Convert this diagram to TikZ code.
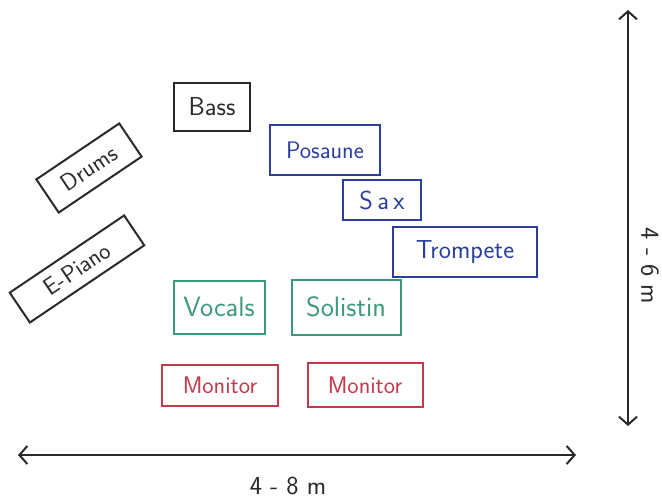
\documentclass[tikz,border=0pt]{standalone}
\usetikzlibrary{arrows.meta}
\definecolor{inkblack}{HTML}{2A2A2A}
\definecolor{inkblue}{HTML}{2B3F9C}
\definecolor{inkgreen}{HTML}{3C9A7A}
\definecolor{inkred}{HTML}{C23A4C}
\newcommand{\fsz}[1]{\fontsize{#1}{#1}\selectfont}
\begin{document}
\begin{tikzpicture}[x=1pt,y=-1pt,
  box/.style={draw, line width=2pt, inner sep=0pt, font=\sffamily\fsz{24}},
  blk/.style={box, draw=inkblack, text=inkblack},
  blu/.style={box, draw=inkblue, text=inkblue},
  grn/.style={box, draw=inkgreen, text=inkgreen, font=\sffamily\fsz{28}},
  rd/.style={box, draw=inkred, text=inkred, font=\sffamily\fsz{24}},
  dim/.style={line width=2pt, draw=inkblack, {Straight Barb[length=8pt,width=18pt]}-{Straight Barb[length=8pt,width=18pt]}},
  dimlabel/.style={text=inkblack, font=\sffamily\fsz{26}}
]
\useasboundingbox (0,0) rectangle (662,500);
\fill[white] (0,0) rectangle (662,500);

\node[blk, minimum width=76pt, minimum height=48pt, font=\sffamily\fsz{26}] (bass) at (212,107) {Bass};
\node[blk, minimum width=100pt, minimum height=40pt, rotate=34] (drums) at (89,168) {Drums};
\node[blk, minimum width=138pt, minimum height=36pt, rotate=34] (epiano) at (77,269) {E-Piano};

\node[blu, minimum width=110pt, minimum height=50pt] (posaune) at (325,150) {Posaune};
\node[blu, minimum width=78pt, minimum height=40pt, font=\sffamily\fsz{26}] (sax) at (382,200) {S\,a\,x};
\node[blu, minimum width=144pt, minimum height=50pt, font=\sffamily\fsz{26}] (trompete) at (465,252) {Trompete};

\node[grn, minimum width=91pt, minimum height=53pt] (vocals) at (219,307) {Vocals};
\node[grn, minimum width=109pt, minimum height=55pt] (solistin) at (346,307) {Solistin};

\node[rd, minimum width=116pt, minimum height=41pt] (mon1) at (220,385) {Monitor};
\node[rd, minimum width=115pt, minimum height=44pt] (mon2) at (365,385) {Monitor};

\coordinate (hl) at (18,455);
\coordinate (hr) at (576,455);
\draw[dim] (hl) -- (hr);
\node[dimlabel] (wlabel) at (288,486) {4 - 8 m};

\coordinate (vt) at (628,10);
\coordinate (vb) at (628,426);
\draw[dim] (vt) -- (vb);
\node[dimlabel, rotate=-90] (hlabel) at (650,266) {4 - 6 m};
\end{tikzpicture}
\end{document}
